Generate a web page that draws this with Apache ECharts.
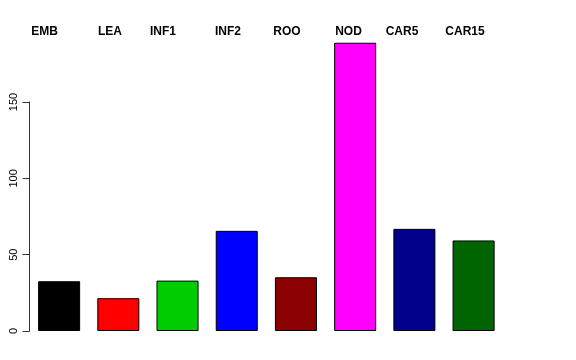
<!DOCTYPE html>
<html><head><meta charset="utf-8">
<script src="https://cdn.jsdelivr.net/npm/echarts@6/dist/echarts.min.js"></script>
<style>html,body{margin:0;padding:0;background:#fff}#c{width:576px;height:360px}</style>
</head><body><div id="c"></div>
<script>
var categories = ["EMB","LEA","INF1","INF2","ROO","NOD","CAR5","CAR15"];
var values = [32.6, 21.5, 33.0, 65.6, 35.2, 188.8, 66.9, 59.3];
var colors = ["#000000","#FF0000","#00CD00","#0000FF","#8B0000","#FF00FF","#00008B","#006400"];
var yTicks = [0, 50, 100, 150];
var labelX = [44.5, 110, 163, 228, 287, 348.5, 402, 465];

var chart = echarts.init(document.getElementById('c'), null, {renderer:'canvas'});
chart.setOption({
  animation:false,
  grid:{left:29.5, right:72.8, top:102, bottom:29},
  xAxis:{type:'category', data:categories, axisLine:{show:false}, axisTick:{show:false}, axisLabel:{show:false}},
  yAxis:{type:'value', min:0, max:150, interval:50,
    axisLine:{show:true, lineStyle:{color:'#333', width:1}},
    axisTick:{show:true, length:7, lineStyle:{color:'#333'}},
    splitLine:{show:false},
    axisLabel:{rotate:90, margin:10, fontSize:11, color:'#000', fontFamily:'Liberation Sans, Arial, sans-serif'}
  },
  series:[{type:'bar', clip:false, barCategoryGap:'29%',
    data: values.map(function(v,i){return {value:v, itemStyle:{color:colors[i]}};}),
    itemStyle:{borderColor:'#000', borderWidth:1}
  }],
  graphic: categories.map(function(c,i){
    return {type:'text', x:labelX[i], y:31.5, style:{text:c, fontSize:12, fontWeight:'bold', fill:'#000', fontFamily:'Liberation Sans, Arial, sans-serif', align:'center', verticalAlign:'middle'}};
  })
});
</script></body></html>
